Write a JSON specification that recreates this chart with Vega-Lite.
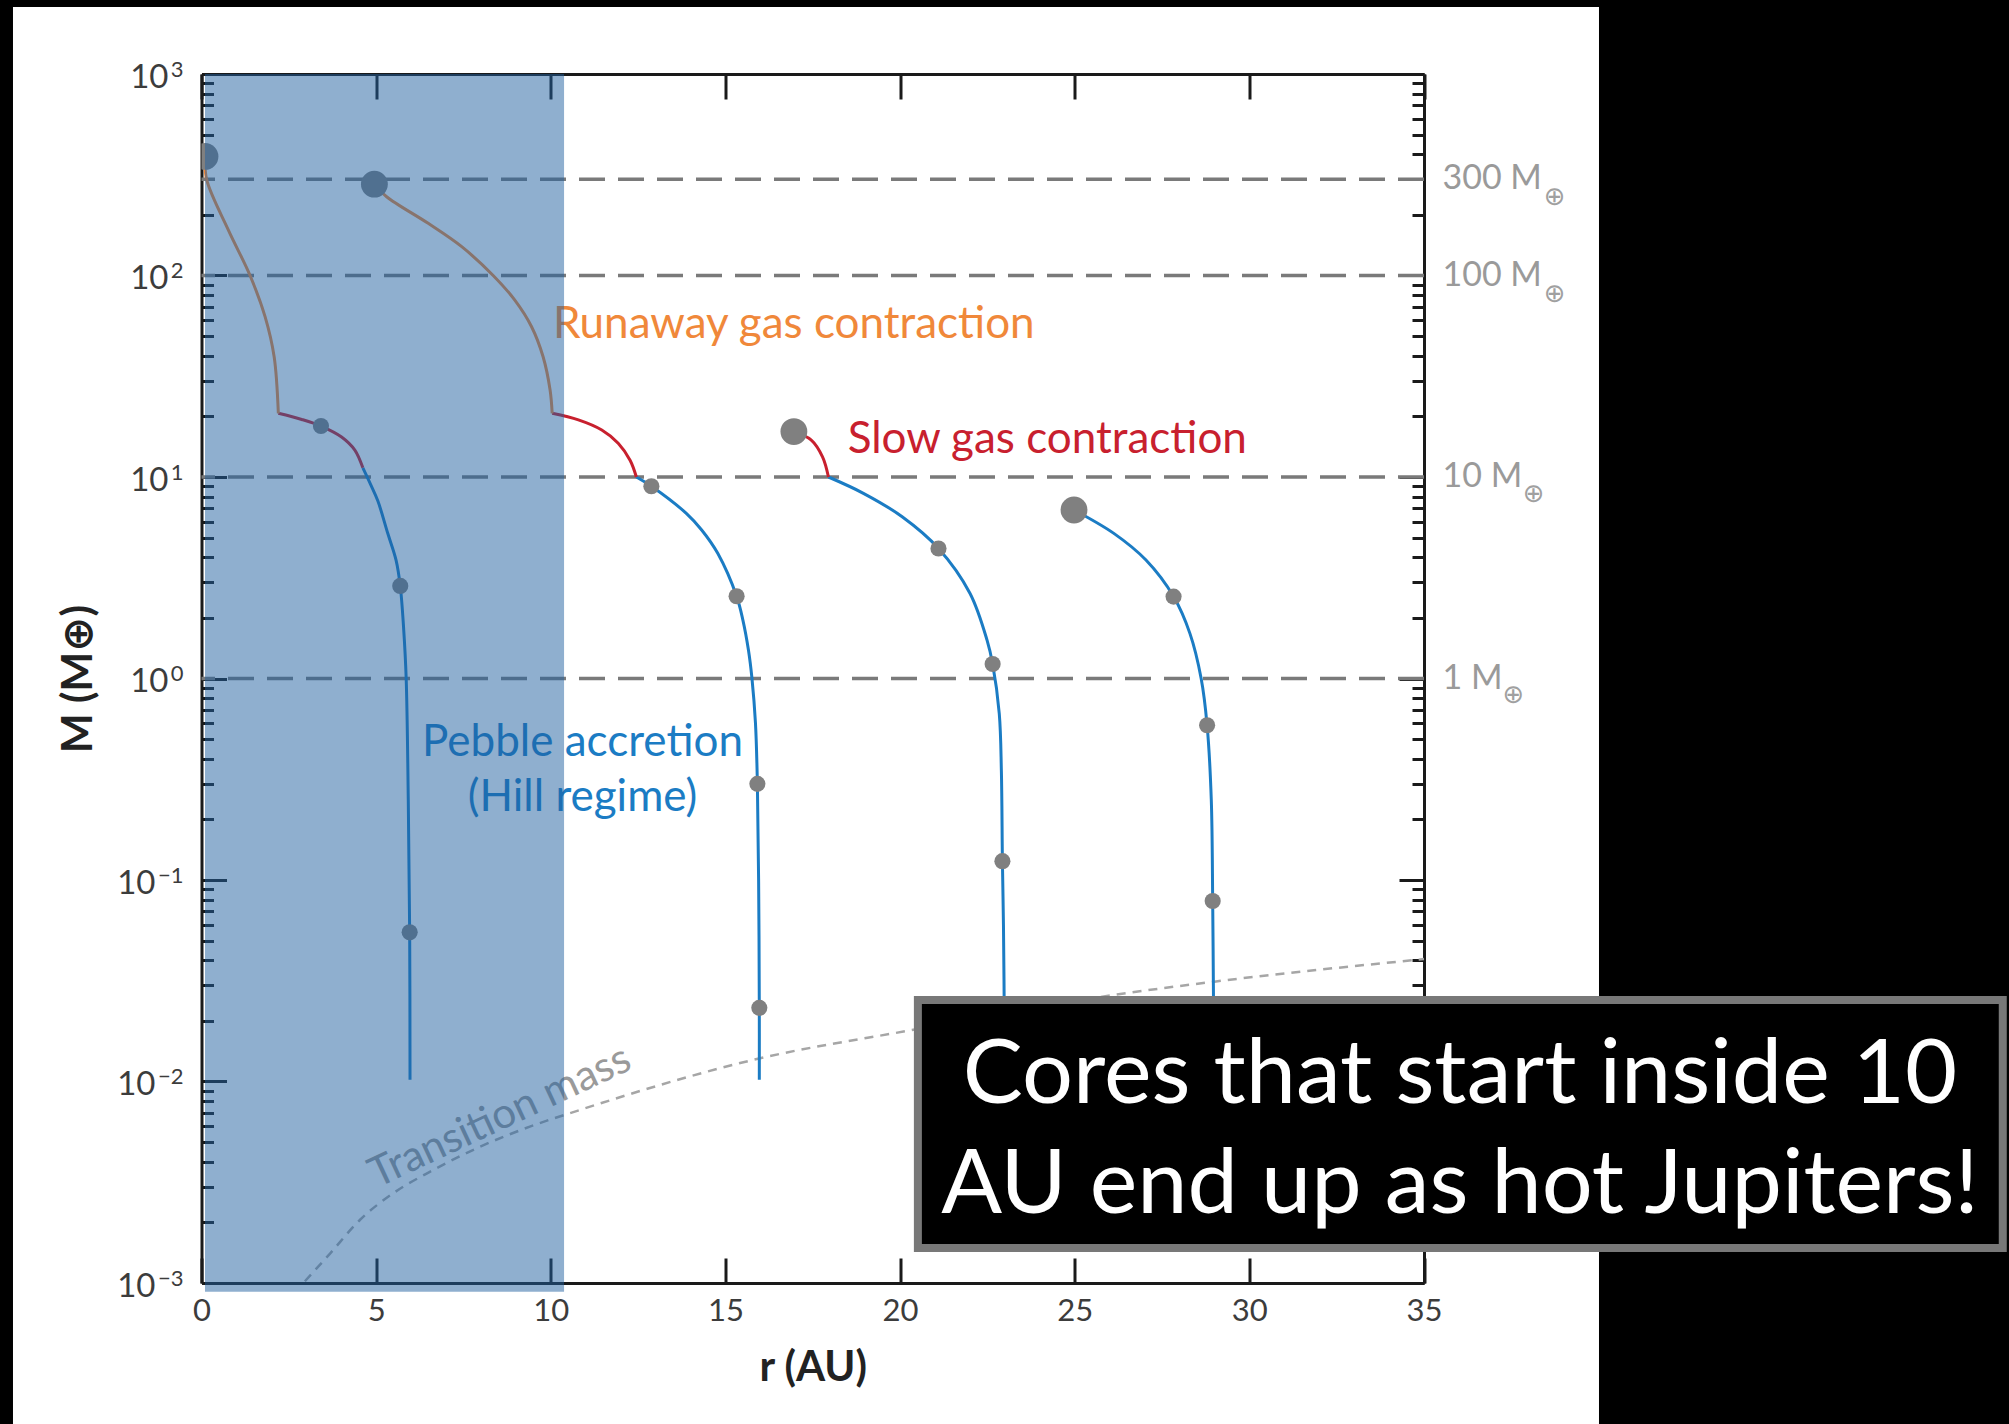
{
  "$schema": "https://vega.github.io/schema/vega-lite/v6.json",
  "width": 1222.5,
  "height": 1209,
  "autosize": {"type": "none"},
  "padding": {"left": 201.5, "top": 74, "right": 585, "bottom": 141},
  "background": "#ffffff",
  "config": {
    "view": {"stroke": null},
    "font": "Lato, DejaVu Sans, sans-serif",
    "axis": {
      "grid": false, "domain": false, "tickColor": "#1a1a1a", "tickWidth": 3,
      "domainColor": "#1a1a1a", "domainWidth": 3,
      "labelFont": "Lato, DejaVu Sans, sans-serif", "labelColor": "#3c3c3c", "labelFontSize": 31,
      "labelFlush": false, "labelOverlap": false,
      "titleFont": "Lato, DejaVu Sans, sans-serif", "titleColor": "#222222", "zindex": 0
    }
  },
  "datasets": {
    "refs": [
      {"M": 300, "label": "300 M"},
      {"M": 100, "label": "100 M"},
      {"M": 10, "label": "10 M"},
      {"M": 1, "label": "1 M"}
    ],
    "trans": [
      {"r": 2.96, "M": 0.00102}, {"r": 3.68, "M": 0.0014}, {"r": 4.54, "M": 0.00206},
      {"r": 5.49, "M": 0.00279}, {"r": 6.64, "M": 0.00364}, {"r": 7.97, "M": 0.00474},
      {"r": 9.4, "M": 0.00597}, {"r": 10.84, "M": 0.00723}, {"r": 15.96, "M": 0.013},
      {"r": 20.34, "M": 0.018}, {"r": 26.13, "M": 0.0269}, {"r": 29.0, "M": 0.0313},
      {"r": 35.0, "M": 0.0405}
    ],
    "tracks": [
      {"seg": "t1p", "phase": "pebble", "i": 1, "r": 5.97, "M": 0.0102},
      {"seg": "t1p", "phase": "pebble", "i": 2, "r": 5.96, "M": 0.055},
      {"seg": "t1p", "phase": "pebble", "i": 3, "r": 5.92, "M": 0.25},
      {"seg": "t1p", "phase": "pebble", "i": 4, "r": 5.86, "M": 1.0},
      {"seg": "t1p", "phase": "pebble", "i": 5, "r": 5.79, "M": 1.74},
      {"seg": "t1p", "phase": "pebble", "i": 6, "r": 5.69, "M": 2.88},
      {"seg": "t1p", "phase": "pebble", "i": 7, "r": 5.57, "M": 3.87},
      {"seg": "t1p", "phase": "pebble", "i": 8, "r": 5.33, "M": 5.27},
      {"seg": "t1p", "phase": "pebble", "i": 9, "r": 5.05, "M": 7.6},
      {"seg": "t1p", "phase": "pebble", "i": 10, "r": 4.84, "M": 9.2},
      {"seg": "t1p", "phase": "pebble", "i": 11, "r": 4.62, "M": 11.1},
      {"seg": "t1s", "phase": "slow", "i": 12, "r": 4.62, "M": 11.1},
      {"seg": "t1s", "phase": "slow", "i": 13, "r": 4.39, "M": 13.6},
      {"seg": "t1s", "phase": "slow", "i": 14, "r": 4.01, "M": 15.8},
      {"seg": "t1s", "phase": "slow", "i": 15, "r": 3.42, "M": 17.9},
      {"seg": "t1s", "phase": "slow", "i": 16, "r": 2.87, "M": 19.3},
      {"seg": "t1s", "phase": "slow", "i": 17, "r": 2.2, "M": 20.7},
      {"seg": "t1r", "phase": "runaway", "i": 18, "r": 2.2, "M": 20.7},
      {"seg": "t1r", "phase": "runaway", "i": 19, "r": 2.08, "M": 39.5},
      {"seg": "t1r", "phase": "runaway", "i": 20, "r": 1.82, "M": 62.5},
      {"seg": "t1r", "phase": "runaway", "i": 21, "r": 1.39, "M": 100},
      {"seg": "t1r", "phase": "runaway", "i": 22, "r": 0.77, "M": 168},
      {"seg": "t1r", "phase": "runaway", "i": 23, "r": 0.15, "M": 298},
      {"seg": "t1r", "phase": "runaway", "i": 24, "r": 0.1, "M": 390},
      {"seg": "t2p", "phase": "pebble", "i": 31, "r": 15.97, "M": 0.0102},
      {"seg": "t2p", "phase": "pebble", "i": 32, "r": 15.97, "M": 0.0232},
      {"seg": "t2p", "phase": "pebble", "i": 33, "r": 15.95, "M": 0.1},
      {"seg": "t2p", "phase": "pebble", "i": 34, "r": 15.915, "M": 0.3},
      {"seg": "t2p", "phase": "pebble", "i": 35, "r": 15.86, "M": 0.6},
      {"seg": "t2p", "phase": "pebble", "i": 36, "r": 15.76, "M": 1.0},
      {"seg": "t2p", "phase": "pebble", "i": 37, "r": 15.66, "M": 1.38},
      {"seg": "t2p", "phase": "pebble", "i": 38, "r": 15.5, "M": 1.95},
      {"seg": "t2p", "phase": "pebble", "i": 39, "r": 15.32, "M": 2.56},
      {"seg": "t2p", "phase": "pebble", "i": 40, "r": 14.78, "M": 4.18},
      {"seg": "t2p", "phase": "pebble", "i": 41, "r": 14.32, "M": 5.46},
      {"seg": "t2p", "phase": "pebble", "i": 42, "r": 13.88, "M": 6.6},
      {"seg": "t2p", "phase": "pebble", "i": 43, "r": 12.88, "M": 9.0},
      {"seg": "t2p", "phase": "pebble", "i": 44, "r": 12.45, "M": 10.0},
      {"seg": "t2s", "phase": "slow", "i": 45, "r": 12.45, "M": 10.0},
      {"seg": "t2s", "phase": "slow", "i": 46, "r": 12.27, "M": 12.1},
      {"seg": "t2s", "phase": "slow", "i": 47, "r": 11.93, "M": 14.7},
      {"seg": "t2s", "phase": "slow", "i": 48, "r": 11.46, "M": 17.1},
      {"seg": "t2s", "phase": "slow", "i": 49, "r": 10.79, "M": 19.2},
      {"seg": "t2s", "phase": "slow", "i": 50, "r": 10.04, "M": 20.7},
      {"seg": "t2r", "phase": "runaway", "i": 51, "r": 10.04, "M": 20.7},
      {"seg": "t2r", "phase": "runaway", "i": 52, "r": 9.98, "M": 27},
      {"seg": "t2r", "phase": "runaway", "i": 53, "r": 9.78, "M": 39.5},
      {"seg": "t2r", "phase": "runaway", "i": 54, "r": 9.45, "M": 55.7},
      {"seg": "t2r", "phase": "runaway", "i": 55, "r": 8.97, "M": 75.5},
      {"seg": "t2r", "phase": "runaway", "i": 56, "r": 8.35, "M": 100},
      {"seg": "t2r", "phase": "runaway", "i": 57, "r": 7.45, "M": 139},
      {"seg": "t2r", "phase": "runaway", "i": 58, "r": 6.49, "M": 181.5},
      {"seg": "t2r", "phase": "runaway", "i": 59, "r": 5.3, "M": 246},
      {"seg": "t2r", "phase": "runaway", "i": 60, "r": 4.95, "M": 284},
      {"seg": "t3p", "phase": "pebble", "i": 61, "r": 22.99, "M": 0.0102},
      {"seg": "t3p", "phase": "pebble", "i": 62, "r": 22.98, "M": 0.025},
      {"seg": "t3p", "phase": "pebble", "i": 63, "r": 22.96, "M": 0.06},
      {"seg": "t3p", "phase": "pebble", "i": 64, "r": 22.93, "M": 0.124},
      {"seg": "t3p", "phase": "pebble", "i": 65, "r": 22.9, "M": 0.35},
      {"seg": "t3p", "phase": "pebble", "i": 66, "r": 22.84, "M": 0.67},
      {"seg": "t3p", "phase": "pebble", "i": 67, "r": 22.65, "M": 1.18},
      {"seg": "t3p", "phase": "pebble", "i": 68, "r": 22.49, "M": 1.55},
      {"seg": "t3p", "phase": "pebble", "i": 69, "r": 22.0, "M": 2.65},
      {"seg": "t3p", "phase": "pebble", "i": 70, "r": 21.1, "M": 4.42},
      {"seg": "t3p", "phase": "pebble", "i": 71, "r": 20.06, "M": 6.35},
      {"seg": "t3p", "phase": "pebble", "i": 72, "r": 18.95, "M": 8.3},
      {"seg": "t3p", "phase": "pebble", "i": 73, "r": 17.95, "M": 10},
      {"seg": "t3s", "phase": "slow", "i": 74, "r": 17.95, "M": 10},
      {"seg": "t3s", "phase": "slow", "i": 75, "r": 17.78, "M": 12.6},
      {"seg": "t3s", "phase": "slow", "i": 76, "r": 17.45, "M": 15.3},
      {"seg": "t3s", "phase": "slow", "i": 77, "r": 16.96, "M": 16.8},
      {"seg": "t4p", "phase": "pebble", "i": 81, "r": 28.99, "M": 0.0102},
      {"seg": "t4p", "phase": "pebble", "i": 82, "r": 28.97, "M": 0.03},
      {"seg": "t4p", "phase": "pebble", "i": 83, "r": 28.95, "M": 0.0787},
      {"seg": "t4p", "phase": "pebble", "i": 84, "r": 28.91, "M": 0.25},
      {"seg": "t4p", "phase": "pebble", "i": 85, "r": 28.79, "M": 0.586},
      {"seg": "t4p", "phase": "pebble", "i": 86, "r": 28.62, "M": 1.0},
      {"seg": "t4p", "phase": "pebble", "i": 87, "r": 28.3, "M": 1.67},
      {"seg": "t4p", "phase": "pebble", "i": 88, "r": 27.83, "M": 2.55},
      {"seg": "t4p", "phase": "pebble", "i": 89, "r": 27.04, "M": 3.87},
      {"seg": "t4p", "phase": "pebble", "i": 90, "r": 26.12, "M": 5.25},
      {"seg": "t4p", "phase": "pebble", "i": 91, "r": 24.98, "M": 6.86}
    ],
    "dots": [
      {"r": 5.96, "M": 0.055, "kind": "small"},
      {"r": 5.69, "M": 2.88, "kind": "small"},
      {"r": 3.42, "M": 17.9, "kind": "small"},
      {"r": 15.97, "M": 0.0232, "kind": "small"},
      {"r": 15.915, "M": 0.3, "kind": "small"},
      {"r": 15.32, "M": 2.56, "kind": "small"},
      {"r": 12.88, "M": 9.0, "kind": "small"},
      {"r": 22.93, "M": 0.124, "kind": "small"},
      {"r": 22.65, "M": 1.18, "kind": "small"},
      {"r": 21.1, "M": 4.42, "kind": "small"},
      {"r": 28.95, "M": 0.0787, "kind": "small"},
      {"r": 28.79, "M": 0.586, "kind": "small"},
      {"r": 27.83, "M": 2.55, "kind": "small"},
      {"r": 0.1, "M": 390, "kind": "big"},
      {"r": 4.95, "M": 284, "kind": "big"},
      {"r": 16.96, "M": 16.8, "kind": "big"},
      {"r": 24.98, "M": 6.86, "kind": "big"}
    ],
    "phaseLabels": [
      {"text": "Runaway gas contraction", "r": 10.06, "M": 48.8, "phase": "runaway"},
      {"text": "Slow gas contraction", "r": 18.5, "M": 13.1, "phase": "slow"}
    ],
    "pebbleLabels": [
      {"text": "Pebble accretion", "r": 10.91, "M": 0.411, "phase": "pebble"},
      {"text": "(Hill regime)", "r": 10.91, "M": 0.2198, "phase": "pebble"}
    ],
    "boxText": [
      {"text": "Cores that start inside 10", "r": 36.03, "M": 0.0078},
      {"text": "AU end up as hot Jupiters!", "r": 36.03, "M": 0.002223}
    ]
  },
  "layer": [
    {
      "data": {"name": "refs"},
      "mark": {"type": "rule", "stroke": "#7a7a7a", "strokeWidth": 3.5, "strokeDash": [26, 13]},
      "encoding": {
        "y": {"field": "M", "type": "quantitative",
          "scale": {"type": "log", "domain": [0.001, 1000], "nice": false},
          "axis": {"orient": "left", "values": [0.001, 0.01, 0.1, 1, 10, 100, 1000],
            "domain": true, "tickSize": -25, "labelPadding": 58.5, "labelOffset": 3, "labelBaseline": "middle",
            "labelFontSize": 33,
            "labelExpr": "datum.value > 0.5 ? '10' : ''",
            "title": "M (M⊕)", "titleFontSize": 42, "titleFontWeight": "bold", "titlePadding": 29}}
      }
    },
    {
      "data": {"name": "trans"},
      "mark": {"type": "line", "stroke": "#a6a6a6", "strokeWidth": 2.5, "strokeDash": [9, 7], "interpolate": "monotone"},
      "encoding": {
        "x": {"field": "r", "type": "quantitative", "scale": {"domain": [0, 35], "nice": false, "zero": false},
          "axis": {"orient": "bottom", "values": [0, 5, 10, 15, 20, 25, 30, 35], "domain": true,
            "tickSize": -25, "labelPadding": 38, "title": "r (AU)", "titleFontSize": 42,
            "titleFontWeight": "bold", "titlePadding": 21}},
        "y": {"field": "M", "type": "quantitative", "scale": {"type": "log", "domain": [0.001, 1000], "nice": false},
          "axis": {"orient": "left", "values": [0.002,0.003,0.004,0.005,0.006,0.007,0.008,0.009,0.02,0.03,0.04,0.05,0.06,0.07,0.08,0.09,0.2,0.3,0.4,0.5,0.6,0.7,0.8,0.9,2,3,4,5,6,7,8,9,20,30,40,50,60,70,80,90,200,300,400,500,600,700,800,900],
            "tickSize": -12, "labels": false, "title": null}}
      }
    },
    {
      "data": {"name": "tracks"},
      "mark": {"type": "line", "strokeWidth": 3, "interpolate": "catmull-rom"},
      "encoding": {
        "x": {"field": "r", "type": "quantitative", "scale": {"domain": [0, 35], "nice": false, "zero": false},
          "axis": {"orient": "top", "values": [0, 5, 10, 15, 20, 25, 30, 35], "domain": true,
            "tickSize": -25, "labels": false, "title": null}},
        "y": {"field": "M", "type": "quantitative", "scale": {"type": "log", "domain": [0.001, 1000], "nice": false},
          "axis": {"orient": "right", "values": [0.001, 0.01, 0.1, 1, 10, 100, 1000], "domain": true,
            "tickSize": -25, "labels": false, "title": null}},
        "detail": {"field": "seg"},
        "order": {"field": "i", "type": "quantitative"},
        "color": {"field": "phase", "type": "nominal",
          "scale": {"domain": ["runaway", "slow", "pebble"], "range": ["#F0883A", "#C8202E", "#1B7CC4"]},
          "legend": null}
      }
    },
    {
      "data": {"name": "dots"},
      "mark": {"type": "circle", "fill": "#808080", "opacity": 1, "clip": true},
      "encoding": {
        "x": {"field": "r", "type": "quantitative", "scale": {"domain": [0, 35], "nice": false, "zero": false}, "axis": null},
        "y": {"field": "M", "type": "quantitative", "scale": {"type": "log", "domain": [0.001, 1000], "nice": false},
          "axis": {"orient": "right", "values": [0.002,0.003,0.004,0.005,0.006,0.007,0.008,0.009,0.02,0.03,0.04,0.05,0.06,0.07,0.08,0.09,0.2,0.3,0.4,0.5,0.6,0.7,0.8,0.9,2,3,4,5,6,7,8,9,20,30,40,50,60,70,80,90,200,300,400,500,600,700,800,900],
            "tickSize": -12, "labels": false, "title": null}},
        "size": {"field": "kind", "type": "ordinal", "scale": {"domain": ["small", "big"], "range": [260, 720]}, "legend": null}
      }
    },
    {
      "data": {"name": "phaseLabels"},
      "mark": {"type": "text", "align": "left", "baseline": "alphabetic", "fontSize": 44},
      "encoding": {
        "x": {"field": "r", "type": "quantitative", "axis": null},
        "y": {"field": "M", "type": "quantitative",
          "axis": {"orient": "left", "values": [0.001, 0.01, 0.1], "ticks": false, "domain": false,
            "labelPadding": 46.5, "labelOffset": 3, "labelBaseline": "middle", "labelFontSize": 33,
            "labelExpr": "'10'", "title": null}},
        "text": {"field": "text"},
        "color": {"field": "phase", "type": "nominal",
          "scale": {"domain": ["runaway", "slow", "pebble"], "range": ["#F0883A", "#C8202E", "#1B7CC4"]},
          "legend": null}
      }
    },
    {
      "data": {"name": "pebbleLabels"},
      "mark": {"type": "text", "align": "center", "baseline": "alphabetic", "fontSize": 44, "fill": "#1B7CC4"},
      "encoding": {
        "x": {"field": "r", "type": "quantitative", "axis": null},
        "y": {"field": "M", "type": "quantitative",
          "axis": {"orient": "left", "values": [0.001, 0.01, 0.1, 1, 10, 100, 1000], "ticks": false, "domain": false,
            "labelPadding": 18.5, "labelOffset": -5, "labelBaseline": "middle", "labelFontSize": 22,
            "labelExpr": "datum.value > 500 ? '3' : datum.value > 50 ? '2' : datum.value > 5 ? '1' : datum.value > 0.5 ? '0' : datum.value > 0.05 ? '−1' : datum.value > 0.005 ? '−2' : '−3'",
            "title": null}},
        "text": {"field": "text"}
      }
    },
    {
      "data": {"values": [{"text": "Transition mass", "r": 8.7, "M": 0.00586}]},
      "mark": {"type": "text", "align": "center", "baseline": "alphabetic", "fontSize": 42, "angle": 335, "fill": "#9a9a9a"},
      "encoding": {
        "x": {"field": "r", "type": "quantitative", "axis": null},
        "y": {"field": "M", "type": "quantitative", "axis": null},
        "text": {"field": "text"}
      }
    },
    {
      "data": {"values": [{"r1": 0.1, "r2": 10.38, "m1": 0.000906, "m2": 1000}]},
      "mark": {"type": "rect", "fill": "#1F5FA0", "opacity": 0.5, "clip": false},
      "encoding": {
        "x": {"field": "r1", "type": "quantitative", "axis": null},
        "x2": {"field": "r2"},
        "y": {"field": "m1", "type": "quantitative", "axis": null},
        "y2": {"field": "m2"}
      }
    },
    {
      "data": {"name": "refs"},
      "mark": {"type": "text", "align": "left", "baseline": "middle", "dx": 18.5, "fontSize": 34, "fill": "#9a9a9a"},
      "encoding": {
        "x": {"datum": 35, "type": "quantitative", "axis": null},
        "y": {"field": "M", "type": "quantitative", "axis": null},
        "text": {"field": "label"}
      }
    },
    {
      "data": {"name": "refs"},
      "transform": [{"filter": "datum.M >= 100"}],
      "mark": {"type": "text", "align": "center", "baseline": "middle", "dx": 130.6, "dy": 18, "fontSize": 26, "font": "DejaVu Sans", "fill": "#a0a0a0"},
      "encoding": {
        "x": {"datum": 35, "type": "quantitative", "axis": null},
        "y": {"field": "M", "type": "quantitative", "axis": null},
        "text": {"value": "⊕"}
      }
    },
    {
      "data": {"name": "refs"},
      "transform": [{"filter": "datum.M == 10"}],
      "mark": {"type": "text", "align": "center", "baseline": "middle", "dx": 109.7, "dy": 17, "fontSize": 26, "font": "DejaVu Sans", "fill": "#a0a0a0"},
      "encoding": {
        "x": {"datum": 35, "type": "quantitative", "axis": null},
        "y": {"field": "M", "type": "quantitative", "axis": null},
        "text": {"value": "⊕"}
      }
    },
    {
      "data": {"name": "refs"},
      "transform": [{"filter": "datum.M == 1"}],
      "mark": {"type": "text", "align": "center", "baseline": "middle", "dx": 89.4, "dy": 16, "fontSize": 26, "font": "DejaVu Sans", "fill": "#a0a0a0"},
      "encoding": {
        "x": {"datum": 35, "type": "quantitative", "axis": null},
        "y": {"field": "M", "type": "quantitative", "axis": null},
        "text": {"value": "⊕"}
      }
    },
    {
      "data": {"values": [
        {"r1": 40.01, "r2": 80, "m1": 0.000001, "m2": 1000000},
        {"r1": -10, "r2": 80, "m1": 2150, "m2": 1000000},
        {"r1": -10, "r2": -5.397, "m1": 0.000001, "m2": 1000000}
      ]},
      "mark": {"type": "rect", "fill": "#000000", "clip": false},
      "encoding": {
        "x": {"field": "r1", "type": "quantitative", "axis": null},
        "x2": {"field": "r2"},
        "y": {"field": "m1", "type": "quantitative", "axis": null},
        "y2": {"field": "m2"}
      }
    },
    {
      "data": {"values": [{"r1": 20.51, "r2": 51.57, "m1": 0.001493, "m2": 0.02535}]},
      "mark": {"type": "rect", "fill": "#000000", "stroke": "#787878", "strokeWidth": 8, "clip": false},
      "encoding": {
        "x": {"field": "r1", "type": "quantitative", "axis": null},
        "x2": {"field": "r2"},
        "y": {"field": "m1", "type": "quantitative", "axis": null},
        "y2": {"field": "m2"}
      }
    },
    {
      "data": {"name": "boxText"},
      "mark": {"type": "text", "align": "center", "baseline": "alphabetic", "fontSize": 90, "fill": "#ffffff"},
      "encoding": {
        "x": {"field": "r", "type": "quantitative", "axis": null},
        "y": {"field": "M", "type": "quantitative", "axis": null},
        "text": {"field": "text"}
      }
    }
  ],
  "resolve": {"axis": {"x": "independent", "y": "independent"}}
}
